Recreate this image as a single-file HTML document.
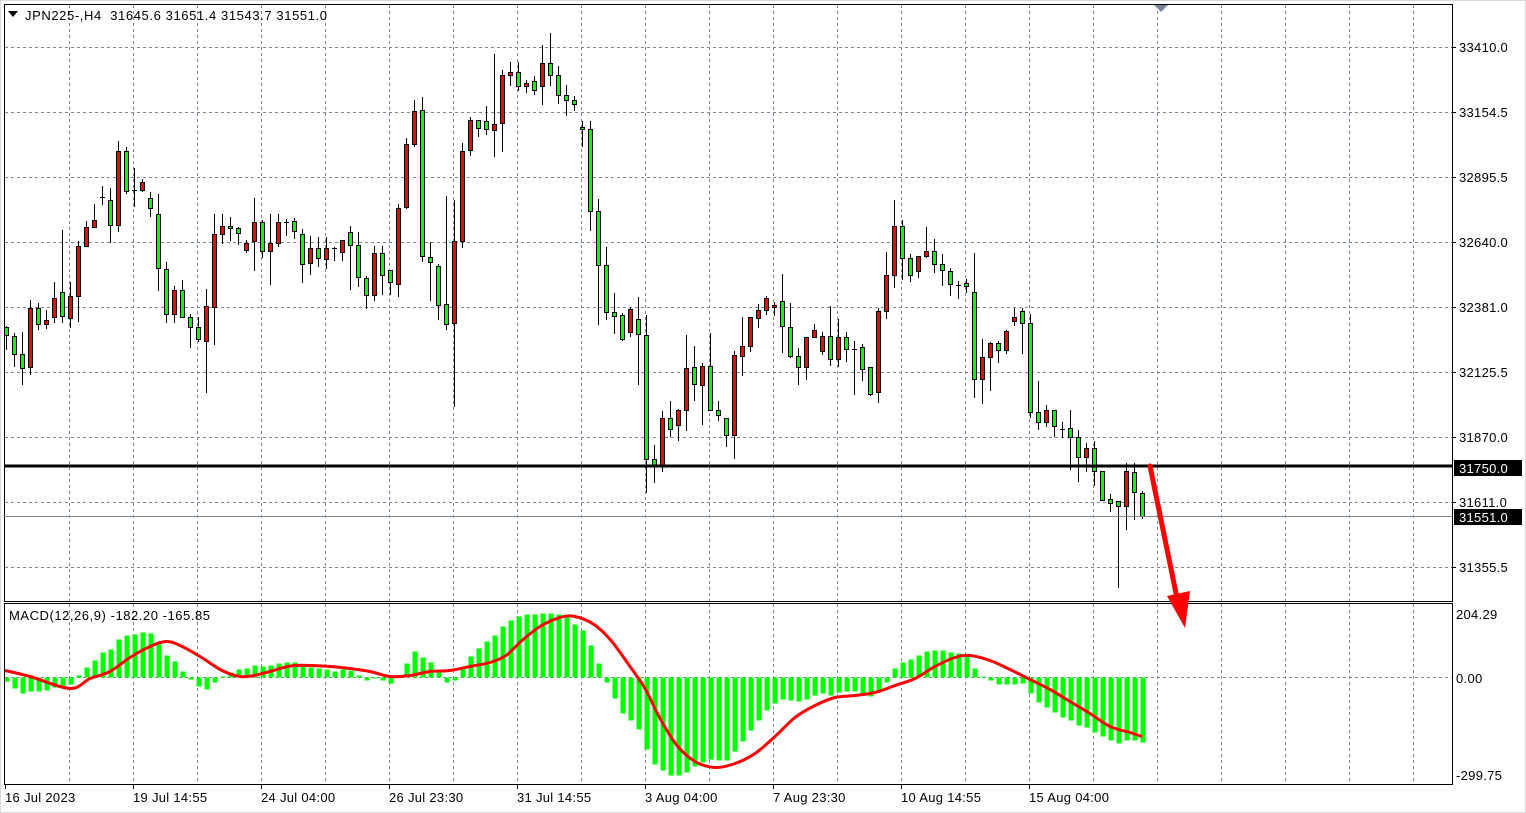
<!DOCTYPE html>
<html><head><meta charset="utf-8"><style>
html,body{margin:0;padding:0;background:#fff;}
svg{display:block;font-family:"Liberation Sans",Tahoma,sans-serif;}
</style></head><body>
<svg id="s" width="1526" height="813" xmlns="http://www.w3.org/2000/svg">
<rect x="0" y="0" width="1526" height="813" fill="#fff"/>
<rect x="0.5" y="0.5" width="1525" height="812" fill="none" stroke="#d8d8d8"/>
<g id="grid" stroke="#7a8794" stroke-dasharray="3,3" stroke-width="1"></g>
<g id="cand"></g>
<g id="macd"></g>
<rect x="4.5" y="4.5" width="1448" height="597" fill="none" stroke="#000"/>
<rect x="4.5" y="603.5" width="1448" height="181" fill="none" stroke="#000"/>
<polygon points="1154,5 1168,5 1161,12" fill="#7a8794"/>
<line x1="4" y1="516.5" x2="1452" y2="516.5" stroke="#7a8794" stroke-width="1"/>
<line x1="4" y1="466" x2="1452" y2="466" stroke="#000" stroke-width="3"/>
<line x1="1150" y1="466" x2="1178" y2="603" stroke="#ff0000" stroke-width="5" stroke-linecap="round"/>
<polygon points="1185,628 1167,596 1190,591" fill="#ff0000"/>
<polygon points="8,11 18,11 13,17" fill="#000"/>
<text x="25" y="20" font-size="13" textLength="302" lengthAdjust="spacing" xml:space="preserve">JPN225-,H4&#160;&#160;31645.6 31651.4 31543.7 31551.0</text>
<text x="9" y="620" font-size="13" textLength="201" lengthAdjust="spacing">MACD(12,26,9) -182.20 -165.85</text>
<g font-size="13" fill="#000" letter-spacing="0.3">
<text x="1459" y="52">33410.0</text>
<text x="1459" y="117">33154.5</text>
<text x="1459" y="182">32895.5</text>
<text x="1459" y="247">32640.0</text>
<text x="1459" y="312">32381.0</text>
<text x="1459" y="377">32125.5</text>
<text x="1459" y="442">31870.0</text>
<text x="1459" y="507">31611.0</text>
<text x="1459" y="572">31355.5</text>
<text x="1456" y="619">204.29</text>
<text x="1456" y="683">0.00</text>
<text x="1456" y="780">-299.75</text>
</g>
<rect x="1454" y="460" width="68" height="16" fill="#000"/>
<text x="1459" y="473" font-size="13" fill="#fff" letter-spacing="0.3">31750.0</text>
<rect x="1454" y="509" width="68" height="16" fill="#000"/>
<text x="1459" y="522" font-size="13" fill="#fff" letter-spacing="0.3">31551.0</text>
<g stroke="#000">
<line x1="1452" y1="47.5" x2="1456" y2="47.5"/><line x1="1452" y1="112.5" x2="1456" y2="112.5"/>
<line x1="1452" y1="177.5" x2="1456" y2="177.5"/><line x1="1452" y1="242.5" x2="1456" y2="242.5"/>
<line x1="1452" y1="307.5" x2="1456" y2="307.5"/><line x1="1452" y1="372.5" x2="1456" y2="372.5"/>
<line x1="1452" y1="437.5" x2="1456" y2="437.5"/><line x1="1452" y1="502.5" x2="1456" y2="502.5"/>
<line x1="1452" y1="567.5" x2="1456" y2="567.5"/>
</g>
<g font-size="13" fill="#000" letter-spacing="0.3">
<text x="5" y="802">16 Jul 2023</text>
<text x="133" y="802">19 Jul 14:55</text>
<text x="261" y="802">24 Jul 04:00</text>
<text x="389" y="802">26 Jul 23:30</text>
<text x="517" y="802">31 Jul 14:55</text>
<text x="645" y="802">3 Aug 04:00</text>
<text x="773" y="802">7 Aug 23:30</text>
<text x="901" y="802">10 Aug 14:55</text>
<text x="1029" y="802">15 Aug 04:00</text>
</g>
<g id="bt" stroke="#000"></g>
</svg>
<script>
var NS="http://www.w3.org/2000/svg";
function el(p,t,a){var e=document.createElementNS(NS,t);for(var k in a)e.setAttribute(k,a[k]);p.appendChild(e);return e;}
var g=document.getElementById('grid');
var hy=[47,112,177,242,307,372,437,502,567];
hy.forEach(function(y){el(g,'line',{x1:5,y1:y+.5,x2:1452,y2:y+.5});});
for(var x=69;x<1452;x+=64){el(g,'line',{x1:x+.5,y1:5,x2:x+.5,y2:601});el(g,'line',{x1:x+.5,y1:604,x2:x+.5,y2:784});}
el(g,'line',{x1:5,y1:677.5,x2:1452,y2:677.5});
var bt=document.getElementById('bt');
for(var x=5;x<1100;x+=128){el(bt,'line',{x1:x+.5,y1:784,x2:x+.5,y2:789});}
var C=[[327,335,'g',326,350],[336,354,'g',333,367],[354,368,'g',332,385],[308,367,'r',300,375],[308,324,'g',303,330],[320,324,'r',310,329],[298,317,'r',282,323],[292,316,'g',230,323],[296,318,'r',282,328],[246,296,'r',241,322],
[227,246,'r',221,246],[220,227,'r',204,227],[197,198,'f',186,205],[200,225,'g',188,243],[151,225,'r',141,232],[151,191,'g',147,194],[190,191,'f',168,207],[182,190,'r',179,192],[198,208,'g',192,217],[214,268,'g',194,291],
[269,314,'g',262,323],[290,314,'r',286,323],[290,317,'g',280,318],[317,327,'g',314,348],[327,339,'g',317,342],[306,341,'r',289,393],[234,307,'r',214,345],[226,234,'r',214,244],[226,228,'g',217,241],[228,233,'g',227,245],
[243,250,'r',240,253],[222,241,'r',198,271],[222,251,'g',220,258],[243,251,'r',214,285],[222,243,'r',214,247],[222,223,'f',219,236],[221,231,'g',218,239],[234,264,'g',229,283],[248,263,'r',236,275],[248,258,'g',237,267],
[248,259,'r',237,269],[248,248,'f',247,261],[240,252,'r',240,261],[232,245,'g',226,290],[245,277,'g',232,287],[278,295,'g',276,309],[253,295,'r',246,301],[253,275,'g',246,295],[270,282,'g',270,295],[208,284,'r',204,297],
[144,207,'r',138,209],[111,144,'r',100,147],[110,256,'g',97,262],[257,262,'g',242,301],[266,305,'g',264,320],[304,324,'g',196,330],[241,323,'r',200,407],[151,241,'r',143,248],[120,150,'r',117,156],[120,128,'g',120,137],
[121,129,'g',106,135],[124,130,'r',54,157],[75,123,'r',70,152],[72,75,'r',62,86],[72,86,'g',62,91],[83,86,'r',80,93],[81,90,'g',76,95],[63,86,'r',45,105],[63,75,'g',33,86],[75,95,'g',66,104],
[95,100,'g',85,116],[100,104,'g',96,111],[127,129,'g',121,147],[129,211,'g',121,231],[211,265,'g',199,325],[265,312,'g',247,320],[312,316,'g',293,334],[315,339,'g',313,341],[309,332,'r',307,337],[319,334,'g',297,385],
[335,459,'g',315,493],[459,465,'g',445,483],[418,466,'r',411,472],[418,429,'g',401,437],[410,425,'r',409,441],[368,410,'r',335,431],[367,384,'g',346,401],[366,385,'r',363,425],[366,410,'g',333,410],[410,415,'g',401,421],
[418,435,'g',418,447],[355,435,'r',351,459],[346,356,'r',317,376],[317,346,'r',317,352],[310,318,'r',304,328],[298,310,'r',296,315],[305,307,'r',302,316],[301,326,'g',274,353],[327,356,'g',303,358],[356,367,'g',348,385],
[337,367,'r',337,380],[330,337,'r',324,337],[336,351,'r',332,355],[336,359,'g',306,366],[337,359,'r',319,367],[337,349,'g',332,362],[349,349,'f',341,395],[347,369,'g',344,381],[367,394,'g',367,396],[311,392,'r',308,403],
[275,311,'r',252,319],[226,275,'r',200,288],[226,258,'g',220,280],[258,275,'g',254,282],[256,271,'r',256,278],[251,256,'r',227,258],[251,264,'g',239,273],[264,270,'g',254,286],[271,284,'g',268,296],[285,285,'f',281,299],
[283,286,'g',279,293],[292,379,'g',253,398],[357,379,'r',339,404],[343,357,'r',342,391],[343,350,'g',341,363],[331,350,'r',330,354],[317,321,'r',308,326],[311,323,'g',308,354],[323,412,'g',314,418],[412,422,'g',381,430],
[410,422,'r',405,427],[410,426,'g',410,437],[429,429,'f',422,438],[428,437,'g',410,470],[437,457,'g',430,482],[448,457,'r',443,472],[448,471,'g',441,486],[471,500,'g',471,501],[499,503,'g',494,512],[501,506,'g',501,588],
[471,506,'r',463,530],[472,492,'g',463,520],[493,516,'g',491,519]];
var cg=document.getElementById('cand');
C.forEach(function(c,i){var x=6+8*i;
el(cg,'line',{x1:x+.5,y1:c[3],x2:x+.5,y2:c[4],stroke:'#000','stroke-width':1});
if(c[2]=='f'||c[1]-c[0]<1){el(cg,'line',{x1:x-2,y1:c[0]+.5,x2:x+3,y2:c[0]+.5,stroke:'#000','stroke-width':1});}
else el(cg,'rect',{x:x-1.5,y:c[0]+.5,width:4,height:c[1]-c[0],fill:c[2]=='r'?'#ff0000':'#00ff00',stroke:'#000','stroke-width':1});
});
var H=[-4,-11,-16,-14,-14,-13,-10,-9,-7,2,10,17,25,28,38,42,43,45,44,35,22,16,6,-2,-9,-12,-5,1,5,8,9,12,11,12,14,15,15,12,10,9,8,6,8,7,2,-3,0,-3,-6,2,14,26,20,15,7,-5,-3,9,21,29,36,42,51,57,61,63,63,64,64,63,61,53,
47,32,14,-5,-21,-36,-43,-52,-72,-87,-93,-98,-98,-95,-89,-85,-82,-83,-83,-74,-64,-53,-43,-33,-26,-22,-23,-24,-22,-18,-16,-18,-15,-14,-14,-16,-19,-13,-5,9,15,18,22,26,27,27,25,24,23,9,1,-3,-7,-7,-7,-6,-16,-25,-30,-35,-40,-43,-48,-50,-55,-59,-63,-66,-63,-63,-65];
var mg=document.getElementById('macd');var z=677.5;
H.forEach(function(v,i){var x=6+8*i;var y=v>0?z-v:z;var h=Math.max(Math.abs(v),1);
el(mg,'rect',{x:x-1.5,y:y,width:5,height:h,fill:'#00ff00'});});
var S=[[5,7],[30,1],[70,-11],[90,-1],[110,6],[130,20],[150,31],[166,36],[180,32],[200,21],[222,7],[240,1],[254,2],[270,6],[294,12],[330,11],[350,9],[370,6],[390,1],[410,2],[430,6],[450,7],[470,11],[490,15],[506,22],[522,37],[540,51],[560,60],[575,61],[594,53],[611,37],[630,11],[645,-11],[660,-41],[677,-68],[695,-84],[715,-90],[735,-86],[755,-76],[775,-59],[795,-40],[815,-28],[835,-20],[855,-18],[875,-15],[895,-8],[915,-1],[935,11],[955,20],[970,22],[990,17],[1010,8],[1030,-2],[1050,-12],[1070,-24],[1090,-36],[1110,-49],[1130,-55],[1142,-59]];
// smooth with Catmull-Rom
var P=S.map(function(p){return [p[0],z-p[1]]});
var d='M'+P[0][0]+','+P[0][1];
for(var i=0;i<P.length-1;i++){var p0=P[i-1]||P[i],p1=P[i],p2=P[i+1],p3=P[i+2]||P[i+1];
d+=' C'+(p1[0]+(p2[0]-p0[0])/6)+','+(p1[1]+(p2[1]-p0[1])/6)+' '+(p2[0]-(p3[0]-p1[0])/6)+','+(p2[1]-(p3[1]-p1[1])/6)+' '+p2[0]+','+p2[1];}
el(mg,'path',{d:d,fill:'none',stroke:'#ff0000','stroke-width':3,'stroke-linejoin':'round'});
</script>
</body></html>
